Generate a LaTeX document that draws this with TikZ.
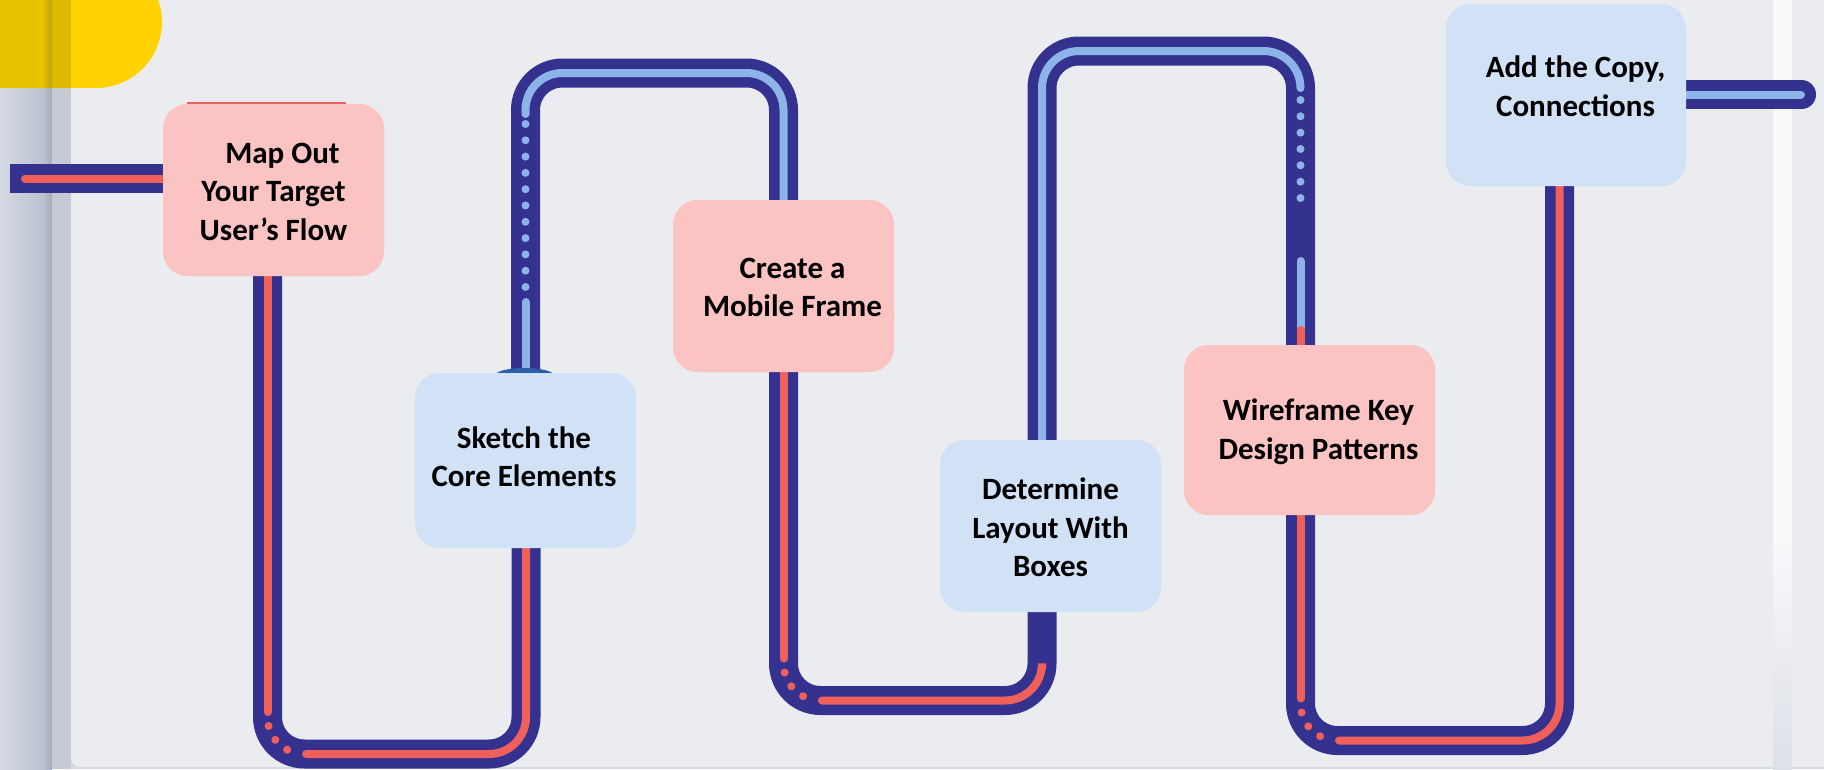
\documentclass[tikz,border=0pt]{standalone}
\usepackage{fontspec}
\setmainfont{Carlito}
\usetikzlibrary{calc}
\definecolor{bandc}{HTML}{35318E}
\definecolor{redc}{HTML}{F0605A}
\definecolor{lbluec}{HTML}{8DB4E9}
\definecolor{pinkc}{HTML}{FBC3C1}
\definecolor{boxbluec}{HTML}{D1E2F7}
\definecolor{bgc}{HTML}{EBECF0}
\definecolor{domec}{HTML}{2C5EAA}
\definecolor{yelc}{HTML}{FFD200}
\definecolor{baseg}{HTML}{D5D9E1}
\definecolor{stripa}{HTML}{D5DAE3}
\definecolor{stripb}{HTML}{BCC3D0}
\definecolor{stripc}{HTML}{A3ACBE}
\definecolor{stripd}{HTML}{C5CAD5}
\definecolor{whitestrip}{HTML}{F8F9FB}
\definecolor{whitestripb}{HTML}{DDE0E7}
\definecolor{yela}{HTML}{E8C300}
\definecolor{yelb}{HTML}{BFA214}
\definecolor{yeld}{HTML}{DDBA00}
\tikzset{
  band/.style={draw=bandc, line width=29pt, rounded corners=37pt},
  redin/.style={draw=redc, line width=8pt, line cap=round, rounded corners=37pt},
  bluein/.style={draw=lbluec, line width=8pt, line cap=round, rounded corners=37pt},
  card/.style={rectangle, rounded corners=25pt, inner sep=0pt, draw=none},
  pinkcard/.style={card, fill=pinkc},
  bluecard/.style={card, fill=boxbluec},
  cardtext/.style={align=center, font=\fontsize{31}{38.5}\selectfont\bfseries, text=black, inner sep=0pt},
}
\begin{document}
\begin{tikzpicture}[x=1pt,y=-1pt]
\useasboundingbox (0,0) rectangle (1824,769);
% background
\fill[baseg] (0,0) rectangle (1824,769);
\shade[left color=stripa, right color=stripb] (0,0) rectangle (42,769);
\shade[left color=stripb, right color=stripc] (42,0) rectangle (52,769);
\fill[stripd] (52,0) rectangle (71,769);
\fill[bgc, rounded corners=9pt] (71,-30) rectangle (1850,767);
\fill[whitestrip] (1773,0) rectangle (1792,540);
\shade[top color=whitestrip, bottom color=whitestripb] (1773,540) rectangle (1792,769);
% yellow corner shape
\fill[yelc] (-5,-60) rectangle (96,88);
\fill[yelc] (96,22) circle[radius=66pt];
\begin{scope}
  \clip (-5,-60) rectangle (96,88) (96,22) circle[radius=66pt];
  \fill[yela] (-5,-60) rectangle (42,100);
  \shade[left color=yela, right color=yelb] (42,-60) rectangle (52,100);
  \fill[yeld] (52,-60) rectangle (71,100);
\end{scope}
% cards (positions)
\node[pinkcard, minimum width=221pt, minimum height=172pt] (b1) at (273.5,190) {};
\node[bluecard, minimum width=221pt, minimum height=175pt] (b2) at (525.5,460.5) {};
\node[pinkcard, minimum width=221pt, minimum height=172pt] (b3) at (783.5,286) {};
\node[bluecard, minimum width=221pt, minimum height=172pt] (b4) at (1050.5,526) {};
\node[pinkcard, minimum width=251pt, minimum height=170pt] (b5) at (1309.5,430) {};
\node[bluecard, minimum width=240pt, minimum height=182pt] (b6) at (1566,95) {};
% track coordinates
\coordinate (sl) at (10,178.5);
\coordinate (slr) at (25,178.5);
\coordinate (p1a) at (267.5,754);  \coordinate (p1b) at (526,754);
\coordinate (p2a) at (525.5,73);   \coordinate (p2b) at (783.5,73);
\coordinate (p3a) at (783.5,700.5); \coordinate (p3b) at (1042,700.5);
\coordinate (p4a) at (1042,51);    \coordinate (p4b) at (1300.5,51);
\coordinate (p5a) at (1300.5,740.5); \coordinate (p5b) at (1559.5,740.5);
\coordinate (sr) at (1801.5,94.5);
% dark bands
\draw[band, line cap=butt] (sl) -- (b1.center |- sl);
\draw[band] (b1.center -| p1a) -- (p1a) -- (p1b) -- (b2.center -| p1b);
\draw[band] (b2.center -| p2a) -- (p2a) -- (p2b) -- (b3.center -| p2b);
\draw[band] (b3.center -| p3a) -- (p3a) -- (p3b) -- (b4.center -| p3b);
\draw[band] (b4.center -| p4a) -- (p4a) -- (p4b) -- (b5.center -| p4b);
\draw[band] (b5.center -| p5a) -- (p5a) -- (p5b) -- (b6.center -| p5b);
\draw[band, line cap=round] (b6.center |- sr) -- (sr);
% inner lines
\draw[redin] (slr) -- (b1.center |- slr);
\foreach \p/\q/\n in {p1a/p1b/b2, p3a/p3b/b4, p5a/p5b/b6}{
  \fill[redc] ($(\p)+(1.1,-28)$) circle[radius=4pt];
  \fill[redc] ($(\p)+(7.8,-14.2)$) circle[radius=4pt];
  \fill[redc] ($(\p)+(19.6,-4.3)$) circle[radius=4pt];
}
\draw[redin] (b1.center -| p1a) -- ($(p1a)+(0,-42)$);
\draw[redin] ($(p1a)+(38.5,0)$) -- (p1b) -- (b2.center -| p1b);
\draw[bluein] (b2.center -| p2a) -- ($(p2a)+(0,229)$);
\foreach \k in {0,...,10}{
  \fill[lbluec] ($(p2a)+(0,51+16.3*\k)$) circle[radius=4pt];
}
\draw[bluein] ($(p2a)+(0,41)$) -- (p2a) -- (p2b) -- (b3.center -| p2b);
\draw[redin] (b3.center -| p3a) -- ($(p3a)+(0,-42)$);
\draw[redin] ($(p3a)+(38.5,0)$) -- (p3b) -- ($(p3b)+(0,-31.5)$);
\draw[bluein] (b4.center -| p4a) -- (p4a) -- (p4b) -- ($(p4b)+(0,37)$);
\foreach \k in {0,...,6}{
  \fill[lbluec] ($(p4b)+(0,49+16.33*\k)$) circle[radius=4pt];
}
\draw[bluein] ($(p4b)+(0,210)$) -- ($(p4b)+(0,284)$);
\draw[redin] ($(p4b)+(0,279)$) -- (b5.center -| p4b);
\draw[redin] (b5.center -| p5a) -- ($(p5a)+(0,-42)$);
\draw[redin] ($(p5a)+(38.5,0)$) -- (p5b) -- (b6.center -| p5b);
\draw[bluein] (b6.center |- sr) -- ($(sr)+(-0.5,0)$);
% small details
\fill[domec] (524.5,375) ellipse[x radius=29pt, y radius=7pt];
\draw[redc, line width=2.5pt] (187,103) -- (346,103);
% cards on top
\node[pinkcard, minimum width=221pt, minimum height=172pt] at (b1.center) {};
\node[bluecard, minimum width=221pt, minimum height=175pt] at (b2.center) {};
\node[pinkcard, minimum width=221pt, minimum height=172pt] at (b3.center) {};
\node[bluecard, minimum width=221pt, minimum height=172pt] at (b4.center) {};
\node[pinkcard, minimum width=251pt, minimum height=170pt] at (b5.center) {};
\node[bluecard, minimum width=240pt, minimum height=182pt] at (b6.center) {};
% texts
\node[cardtext] (t1) at (273.5,191.5) {\hspace*{18pt}Map Out\\Your Target\\User’s Flow};
\node[cardtext] (t2) at (524,456.5) {Sketch the\\Core Elements};
\node[cardtext] (t3) at (792.5,287.5) {Create a\\Mobile Frame};
\node[cardtext] (t4) at (1050.5,527.5) {Determine\\Layout With\\Boxes};
\node[cardtext] (t5) at (1318.5,431.5) {Wireframe Key\\Design Patterns};
\node[cardtext] (t6) at (1575.5,86) {Add the Copy,\\Connections};
\end{tikzpicture}
\end{document}
